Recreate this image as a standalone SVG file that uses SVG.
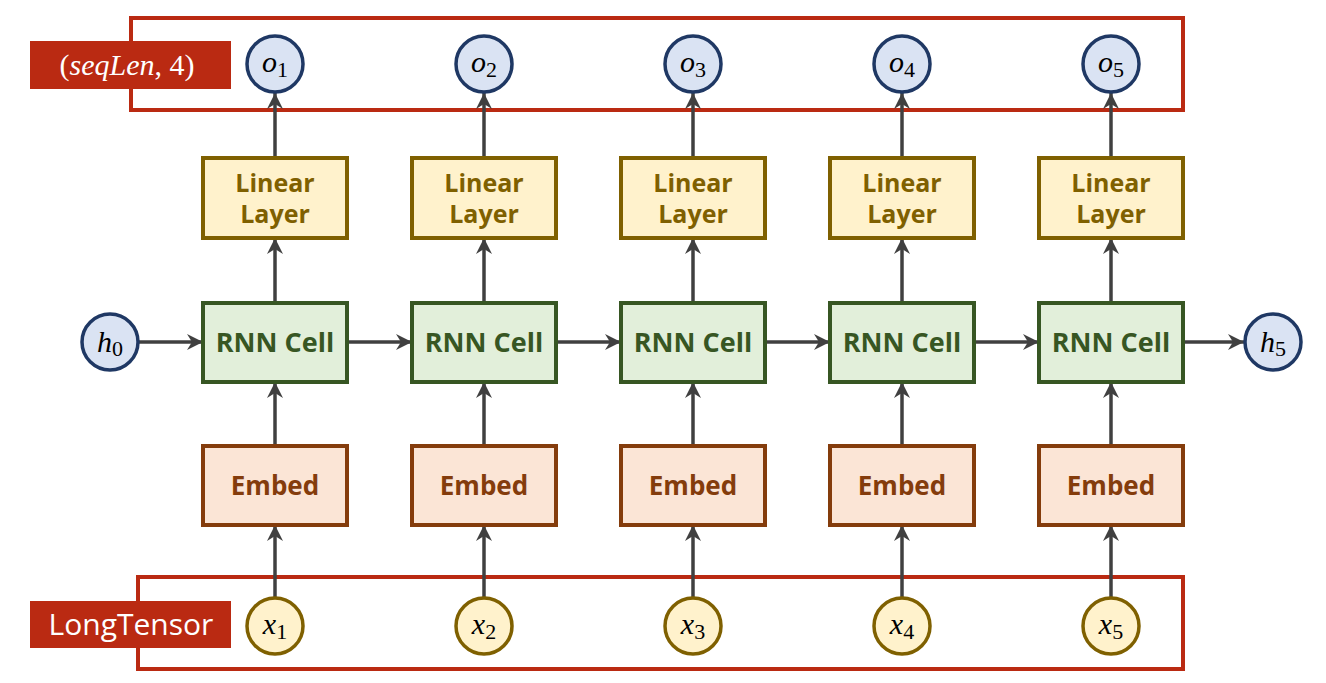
<svg xmlns="http://www.w3.org/2000/svg" width="1326" height="683" viewBox="0 0 1326 683">
<defs>
<marker id="ah" markerUnits="userSpaceOnUse" markerWidth="18" markerHeight="18" viewBox="0 0 18 18" refX="16" refY="9" orient="auto">
<path d="M0,1 L16,9 L0,17 L5,9 Z" fill="#404040"/>
</marker>
<style>
.frame{fill:none;stroke:#BA2A12;stroke-width:4}
.tag{fill:#BA2A12}
.tagt{fill:#fff;font-size:30px;text-anchor:middle}
.lin{fill:#FFF2CC;stroke:#7F6000;stroke-width:4}
.lint{fill:#7F6000;font-family:"Open Sans","Noto Sans",sans-serif;font-weight:bold;font-size:25px;text-anchor:middle}
.rnn{fill:#E2EFDA;stroke:#375623;stroke-width:4}
.rnnt{fill:#375623;font-family:"Open Sans","Noto Sans",sans-serif;font-weight:bold;font-size:27px;text-anchor:middle}
.emb{fill:#FBE5D6;stroke:#843C0C;stroke-width:4}
.embt{fill:#843C0C;font-family:"Open Sans","Noto Sans",sans-serif;font-weight:bold;font-size:26px;text-anchor:middle}
.oc{fill:#DAE3F3;stroke:#1F3864;stroke-width:3.5}
.xc{fill:#FFF2CC;stroke:#7F6000;stroke-width:3.5}
.m{font-family:"Liberation Serif","DejaVu Serif",serif;font-size:30px;fill:#000;text-anchor:middle}
.mi{font-style:italic}
.sub{font-size:22px;font-style:normal}
.c{fill:none;stroke:#404040;stroke-width:3.5;marker-end:url(#ah)}
</style>
</defs>
<rect width="1326" height="683" fill="#fff"/>

<g id="frames">
<rect class="frame" x="131" y="18" width="1052" height="92"/>
<rect class="frame" x="138" y="577" width="1045" height="92"/>
</g>

<g id="connectors">
<path class="c" d="M275,158 V93"/>
<path class="c" d="M484,158 V93"/>
<path class="c" d="M693,158 V93"/>
<path class="c" d="M902,158 V93"/>
<path class="c" d="M1111,158 V93"/>
<path class="c" d="M275,303 V238"/>
<path class="c" d="M484,303 V238"/>
<path class="c" d="M693,303 V238"/>
<path class="c" d="M902,303 V238"/>
<path class="c" d="M1111,303 V238"/>
<path class="c" d="M275,446 V382"/>
<path class="c" d="M484,446 V382"/>
<path class="c" d="M693,446 V382"/>
<path class="c" d="M902,446 V382"/>
<path class="c" d="M1111,446 V382"/>
<path class="c" d="M275,597 V525"/>
<path class="c" d="M484,597 V525"/>
<path class="c" d="M693,597 V525"/>
<path class="c" d="M902,597 V525"/>
<path class="c" d="M1111,597 V525"/>
<path class="c" d="M139,342 H203"/>
<path class="c" d="M347,342 H412"/>
<path class="c" d="M556,342 H621"/>
<path class="c" d="M765,342 H830"/>
<path class="c" d="M974,342 H1039"/>
<path class="c" d="M1183,342 H1244"/>
</g>

<g id="tag-seqlen">
<rect class="tag" x="30" y="41" width="201" height="48"/>
<text class="tagt" x="127" y="75" font-family="Liberation Serif,serif" font-style="italic"><tspan font-style="normal">(</tspan>seqLen<tspan font-style="normal">, 4)</tspan></text>
</g>
<g id="tag-longtensor">
<rect class="tag" x="30" y="601" width="201" height="47"/>
<text class="tagt" x="131" y="635" font-family="Open Sans,Noto Sans,sans-serif" font-size="28">LongTensor</text>
</g>

<g id="h0"><circle class="oc" cx="110" cy="342" r="28"/><text class="m" x="110" y="352"><tspan class="mi">h</tspan><tspan class="sub" dy="4">0</tspan></text></g>
<g id="h5"><circle class="oc" cx="1273" cy="342" r="28"/><text class="m" x="1273" y="352"><tspan class="mi">h</tspan><tspan class="sub" dy="4">5</tspan></text></g>

<g id="o1"><circle class="oc" cx="275" cy="64" r="28"/><text class="m" x="275" y="72"><tspan class="mi">o</tspan><tspan class="sub" dy="5">1</tspan></text></g>
<g id="o2"><circle class="oc" cx="484" cy="64" r="28"/><text class="m" x="484" y="72"><tspan class="mi">o</tspan><tspan class="sub" dy="5">2</tspan></text></g>
<g id="o3"><circle class="oc" cx="693" cy="64" r="28"/><text class="m" x="693" y="72"><tspan class="mi">o</tspan><tspan class="sub" dy="5">3</tspan></text></g>
<g id="o4"><circle class="oc" cx="902" cy="64" r="28"/><text class="m" x="902" y="72"><tspan class="mi">o</tspan><tspan class="sub" dy="5">4</tspan></text></g>
<g id="o5"><circle class="oc" cx="1111" cy="64" r="28"/><text class="m" x="1111" y="72"><tspan class="mi">o</tspan><tspan class="sub" dy="5">5</tspan></text></g>

<g id="lin1"><rect class="lin" x="203" y="158" width="144" height="80"/><text class="lint" x="275" y="192">Linear</text><text class="lint" x="275" y="223">Layer</text></g>
<g id="lin2"><rect class="lin" x="412" y="158" width="144" height="80"/><text class="lint" x="484" y="192">Linear</text><text class="lint" x="484" y="223">Layer</text></g>
<g id="lin3"><rect class="lin" x="621" y="158" width="144" height="80"/><text class="lint" x="693" y="192">Linear</text><text class="lint" x="693" y="223">Layer</text></g>
<g id="lin4"><rect class="lin" x="830" y="158" width="144" height="80"/><text class="lint" x="902" y="192">Linear</text><text class="lint" x="902" y="223">Layer</text></g>
<g id="lin5"><rect class="lin" x="1039" y="158" width="144" height="80"/><text class="lint" x="1111" y="192">Linear</text><text class="lint" x="1111" y="223">Layer</text></g>

<g id="rnn1"><rect class="rnn" x="203" y="303" width="144" height="79"/><text class="rnnt" x="275" y="352">RNN Cell</text></g>
<g id="rnn2"><rect class="rnn" x="412" y="303" width="144" height="79"/><text class="rnnt" x="484" y="352">RNN Cell</text></g>
<g id="rnn3"><rect class="rnn" x="621" y="303" width="144" height="79"/><text class="rnnt" x="693" y="352">RNN Cell</text></g>
<g id="rnn4"><rect class="rnn" x="830" y="303" width="144" height="79"/><text class="rnnt" x="902" y="352">RNN Cell</text></g>
<g id="rnn5"><rect class="rnn" x="1039" y="303" width="144" height="79"/><text class="rnnt" x="1111" y="352">RNN Cell</text></g>

<g id="emb1"><rect class="emb" x="203" y="446" width="144" height="79"/><text class="embt" x="275" y="495">Embed</text></g>
<g id="emb2"><rect class="emb" x="412" y="446" width="144" height="79"/><text class="embt" x="484" y="495">Embed</text></g>
<g id="emb3"><rect class="emb" x="621" y="446" width="144" height="79"/><text class="embt" x="693" y="495">Embed</text></g>
<g id="emb4"><rect class="emb" x="830" y="446" width="144" height="79"/><text class="embt" x="902" y="495">Embed</text></g>
<g id="emb5"><rect class="emb" x="1039" y="446" width="144" height="79"/><text class="embt" x="1111" y="495">Embed</text></g>

<g id="x1"><circle class="xc" cx="275" cy="626" r="28"/><text class="m" x="275" y="634"><tspan class="mi">x</tspan><tspan class="sub" dy="5">1</tspan></text></g>
<g id="x2"><circle class="xc" cx="484" cy="626" r="28"/><text class="m" x="484" y="634"><tspan class="mi">x</tspan><tspan class="sub" dy="5">2</tspan></text></g>
<g id="x3"><circle class="xc" cx="693" cy="626" r="28"/><text class="m" x="693" y="634"><tspan class="mi">x</tspan><tspan class="sub" dy="5">3</tspan></text></g>
<g id="x4"><circle class="xc" cx="902" cy="626" r="28"/><text class="m" x="902" y="634"><tspan class="mi">x</tspan><tspan class="sub" dy="5">4</tspan></text></g>
<g id="x5"><circle class="xc" cx="1111" cy="626" r="28"/><text class="m" x="1111" y="634"><tspan class="mi">x</tspan><tspan class="sub" dy="5">5</tspan></text></g>
</svg>
